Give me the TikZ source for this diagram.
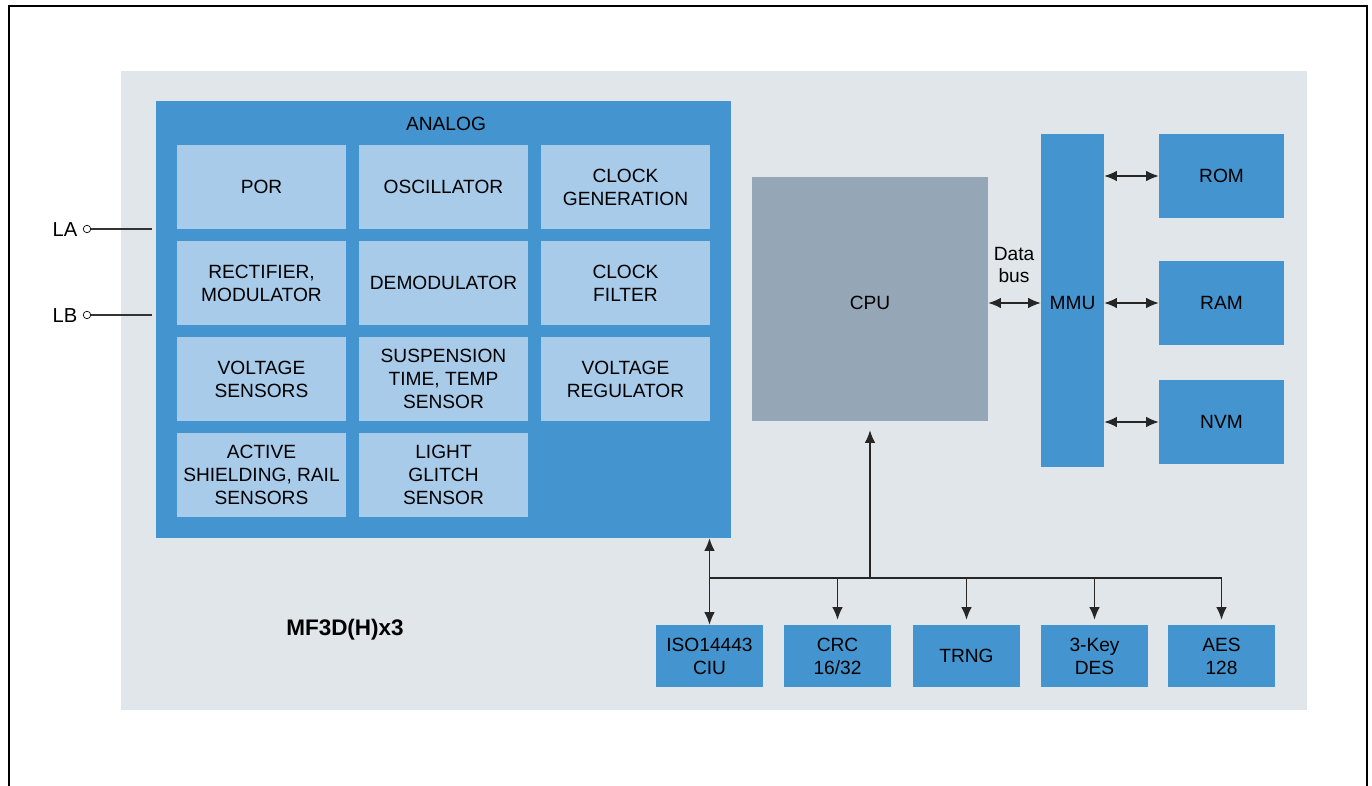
\documentclass[tikz,border=0pt]{standalone}
\usepackage{fontspec}
\setmainfont{Liberation Sans}
\usetikzlibrary{arrows.meta}

\definecolor{chipbg}{HTML}{E1E6EA}
\definecolor{nxpblue}{HTML}{4494CF}
\definecolor{celllight}{HTML}{A8CBEA}
\definecolor{cpugray}{HTML}{95A6B6}

\tikzset{
  cell/.style={fill=celllight, minimum width=3.38cm, minimum height=1.68cm, align=center, inner sep=0pt},
  block/.style={fill=nxpblue, align=center, inner sep=0pt},
  memblock/.style={block, minimum width=2.5cm, minimum height=1.68cm},
  cryptoblock/.style={block, minimum width=2.14cm, minimum height=1.24cm},
  bus/.style={line width=0.7pt, black!85},
}

\begin{document}
\begin{tikzpicture}[x=0.02cm, y=-0.02cm, font=\fontsize{10.9}{13}\selectfont,
  >={Latex[length=2.5mm, width=2.1mm]}]
  \useasboundingbox (0,0) rectangle (1372,786);

  % Frame and chip area
  \draw[line width=1.2pt] (9,786) -- (9,6) -- (1367,6) -- (1367,786);
  \fill[chipbg] (121,71) rectangle (1307,710);

  % Analog block
  \node[block, minimum width=11.5cm, minimum height=8.74cm] (analog) at (443.5,319.5) {};
  \node (analogTitle) at (446,124) {ANALOG};

  \node[cell] (por)   at (261.5,187) {POR};
  \node[cell] (osc)   at (443.5,187) {OSCILLATOR};
  \node[cell] (clkgen) at (625.5,187) {CLOCK\\GENERATION};
  \node[cell] (rect)  at (261.5,283) {RECTIFIER,\\MODULATOR};
  \node[cell] (demod) at (443.5,283) {DEMODULATOR};
  \node[cell] (clkfil) at (625.5,283) {CLOCK\\FILTER};
  \node[cell] (vsens) at (261.5,379) {VOLTAGE\\SENSORS};
  \node[cell] (susp)  at (443.5,379) {SUSPENSION\\TIME, TEMP\\SENSOR};
  \node[cell] (vreg)  at (625.5,379) {VOLTAGE\\REGULATOR};
  \node[cell] (shield) at (261.5,475) {ACTIVE\\SHIELDING, RAIL\\SENSORS};
  \node[cell] (light) at (443.5,475) {LIGHT\\GLITCH\\SENSOR};

  % Pins
  \node (laLabel) at (65,230) {\fontsize{11.5}{13}\selectfont LA};
  \node (lbLabel) at (65,316) {\fontsize{11.5}{13}\selectfont LB};
  \node[circle, draw, fill=white, inner sep=0pt, minimum size=0.15cm] (laPin) at (87,229) {};
  \node[circle, draw, fill=white, inner sep=0pt, minimum size=0.15cm] (lbPin) at (87,315) {};
  \draw[black!80, line width=0.6pt, shorten >=0.8mm] (laPin) -- (analog.west |- laPin);
  \draw[black!80, line width=0.6pt, shorten >=0.8mm] (lbPin) -- (analog.west |- lbPin);

  % CPU and memories
  \node[fill=cpugray, minimum width=4.72cm, minimum height=4.88cm] (cpu) at (870,299) {};
  \node (cpuLabel) at (870,303) {CPU};
  \node[block, minimum width=1.26cm, minimum height=6.66cm] (mmu) at (1072.5,300.5) {};
  \node (mmuLabel) at (1072.5,303) {MMU};
  \node[memblock] (rom) at (1221.5,176) {ROM};
  \node[memblock] (ram) at (1221.5,303) {RAM};
  \node[memblock] (nvm) at (1221.5,422) {NVM};

  \node[align=center] (dataBus) at (1014,265) {Data\\bus};
  \draw[bus, <->] (cpu.east |- ram) -- (mmu.west |- ram);
  \draw[bus, <->] (mmu.east |- rom) -- (rom.west);
  \draw[bus, <->] (mmu.east |- ram) -- (ram.west);
  \draw[bus, <->] (mmu.east |- nvm) -- (nvm.west);

  % Peripherals
  \node[cryptoblock] (iso)  at (709.5,656) {ISO14443\\CIU};
  \node[cryptoblock] (crc)  at (837.5,656) {CRC\\16/32};
  \node[cryptoblock] (trng) at (966.5,656) {TRNG};
  \node[cryptoblock] (des)  at (1094.5,656) {3-Key\\DES};
  \node[cryptoblock] (aes)  at (1221.5,656) {AES\\128};

  % Internal bus
  \coordinate (busL) at (709.5,578);
  \coordinate (busR) at (1221.5,578);
  \draw[bus] (busL) -- (busR);
  \draw[bus, <->] (iso.north) -- (iso.north |- analog.south);
  \draw[bus, ->, shorten >=1.8mm] (cpu.south |- busL) -- (cpu.south);
  \draw[bus, ->, shorten >=1mm] (crc.north |- busL) -- (crc.north);
  \draw[bus, ->, shorten >=1mm] (trng.north |- busL) -- (trng.north);
  \draw[bus, ->, shorten >=1mm] (des.north |- busL) -- (des.north);
  \draw[bus, ->, shorten >=1mm] (aes.north |- busL) -- (aes.north);

  % Chip name
  \node[font=\fontsize{12.8}{15}\selectfont\bfseries] (chipName) at (345,630) {MF3D(H)x3};
\end{tikzpicture}
\end{document}
